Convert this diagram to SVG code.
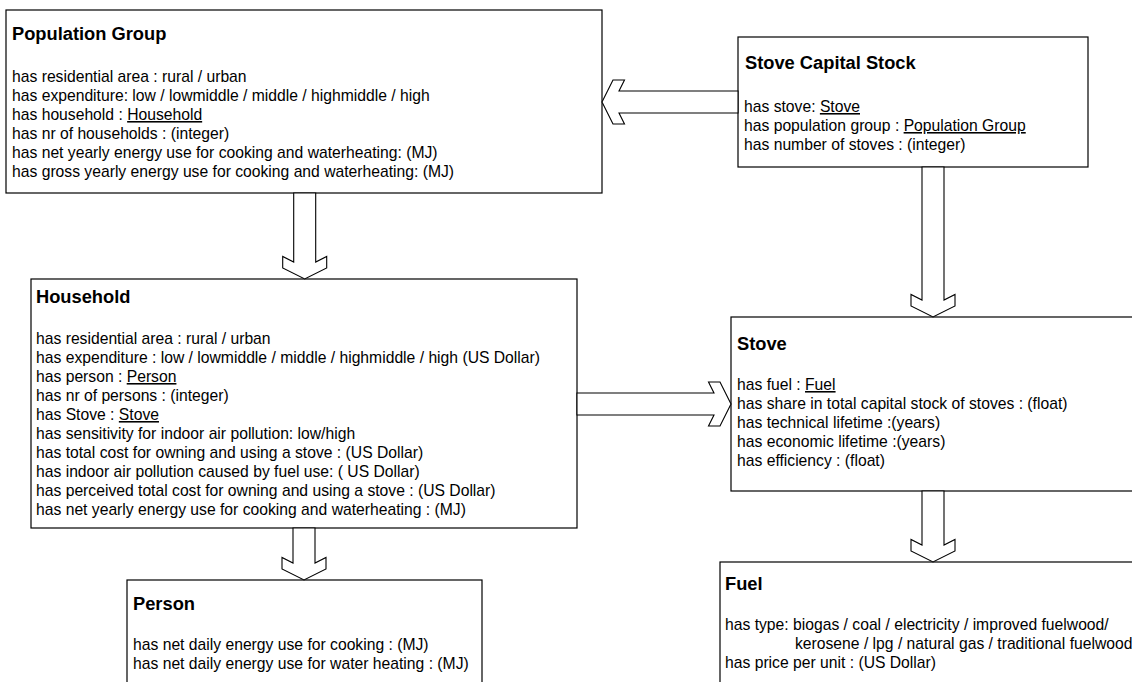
<svg xmlns="http://www.w3.org/2000/svg" width="1132" height="682" viewBox="0 0 1132 682">
<style>
.box{fill:#fff;stroke:#000;stroke-width:1.2}
.arr{fill:#fff;stroke:#000;stroke-width:1.1;stroke-linejoin:miter}
.t{font-family:"Liberation Sans",Arial,sans-serif;font-size:18.3px;font-weight:bold;fill:#000}
.b{font-family:"Liberation Sans",Arial,sans-serif;font-size:15.7px;fill:#000}
.u{text-decoration:underline}
</style>
<rect width="1132" height="682" fill="#fff"/>
<g id="population-group">
<rect class="box" x="6" y="10" width="596" height="183"/>
<text class="t" x="12" y="40">Population Group</text>
<text class="b" x="12" y="82">has residential area : rural / urban</text>
<text class="b" x="12" y="101">has expenditure: low / lowmiddle / middle / highmiddle / high</text>
<text class="b" x="12" y="120">has household : <tspan class="u">Household</tspan></text>
<text class="b" x="12" y="139">has nr of households : (integer)</text>
<text class="b" x="12" y="158">has net yearly energy use for cooking and waterheating: (MJ)</text>
<text class="b" x="12" y="177">has gross yearly energy use for cooking and waterheating: (MJ)</text>
</g>
<g id="stove-capital-stock">
<rect class="box" x="738" y="37" width="350" height="130"/>
<text class="t" x="745" y="69">Stove Capital Stock</text>
<text class="b" x="744" y="112">has stove: <tspan class="u">Stove</tspan></text>
<text class="b" x="744" y="131">has population group : <tspan class="u">Population Group</tspan></text>
<text class="b" x="744" y="150">has number of stoves : (integer)</text>
</g>
<g id="household">
<rect class="box" x="31" y="279" width="546" height="249"/>
<text class="t" x="36" y="303">Household</text>
<text class="b" x="36" y="344">has residential area : rural / urban</text>
<text class="b" x="36" y="363">has expenditure : low / lowmiddle / middle / highmiddle / high (US Dollar)</text>
<text class="b" x="36" y="382">has person : <tspan class="u">Person</tspan></text>
<text class="b" x="36" y="401">has nr of persons : (integer)</text>
<text class="b" x="36" y="420">has Stove : <tspan class="u">Stove</tspan></text>
<text class="b" x="36" y="439">has sensitivity for indoor air pollution: low/high</text>
<text class="b" x="36" y="458">has total cost for owning and using a stove : (US Dollar)</text>
<text class="b" x="36" y="477">has indoor air pollution caused by fuel use: ( US Dollar)</text>
<text class="b" x="36" y="496">has perceived total cost for owning and using a stove : (US Dollar)</text>
<text class="b" x="36" y="515">has net yearly energy use for cooking and waterheating : (MJ)</text>
</g>
<g id="stove">
<rect class="box" x="731" y="317" width="420" height="174"/>
<text class="t" x="737" y="350">Stove</text>
<text class="b" x="737" y="390">has fuel : <tspan class="u">Fuel</tspan></text>
<text class="b" x="737" y="409">has share in total capital stock of stoves : (float)</text>
<text class="b" x="737" y="428">has technical lifetime :(years)</text>
<text class="b" x="737" y="447">has economic lifetime :(years)</text>
<text class="b" x="737" y="466">has efficiency : (float)</text>
</g>
<g id="person">
<rect class="box" x="127" y="580" width="355" height="120"/>
<text class="t" x="133" y="610">Person</text>
<text class="b" x="133" y="650">has net daily energy use for cooking : (MJ)</text>
<text class="b" x="133" y="669">has net daily energy use for water heating : (MJ)</text>
</g>
<g id="fuel">
<rect class="box" x="720" y="562" width="430" height="140"/>
<text class="t" x="725" y="590">Fuel</text>
<text class="b" x="725" y="630">has type: biogas / coal / electricity / improved fuelwood/</text>
<text class="b" x="795" y="649">kerosene / lpg / natural gas / traditional fuelwood</text>
<text class="b" x="725" y="668">has price per unit : (US Dollar)</text>
</g>
<g id="connectors">
<polygon class="arr" points="293.7,193 293.7,262 282.7,256.5 282.7,268 304.7,279 326.7,268 326.7,256.5 315.7,262 315.7,193"/>
<polygon class="arr" points="293,528 293,563 282,557.5 282,569 304,580 326,569 326,557.5 315,563 315,528"/>
<polygon class="arr" points="922,167 922,300 911,294.5 911,306 933,317 955,306 955,294.5 944,300 944,167"/>
<polygon class="arr" points="922,491 922,545 911,539.5 911,551 933,562 955,551 955,539.5 944,545 944,491"/>
<polygon class="arr" points="577,393 714,393 708.5,382 720,382 731,404 720,426 708.5,426 714,415 577,415"/>
<polygon class="arr" points="738,91 619,91 624.5,80 613,80 602,102 613,124 624.5,124 619,113 738,113"/>
</g>
</svg>
